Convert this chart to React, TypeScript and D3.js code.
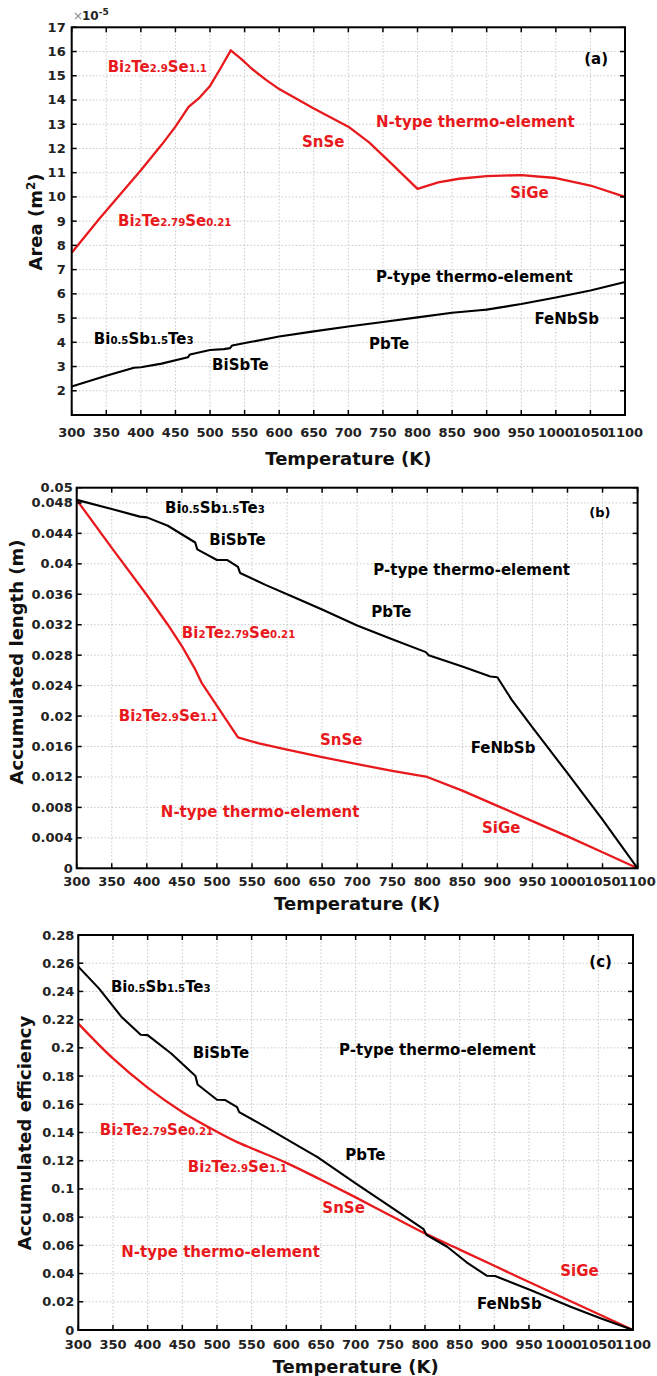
import React from 'react';
import * as d3 from 'd3';

const RED = '#e8191c';
const FONT = '"DejaVu Sans", Arial, sans-serif';

// shared temperature axis
const xTicks = [300, 350, 400, 450, 500, 550, 600, 650, 700, 750, 800, 850, 900, 950, 1000, 1050, 1100];
const xTickLabels = ['300', '350', '400', '450', '500', '550', '600', '650', '700', '750', '800', '850', '900', '950', '1000', '1050', '1100'];

// (a) area, x1e-5 m^2
const aTicks = [2, 3, 4, 5, 6, 7, 8, 9, 10, 11, 12, 13, 14, 15, 16, 17];
const aTickLabels = ['2', '3', '4', '5', '6', '7', '8', '9', '10', '11', '12', '13', '14', '15', '16', '17'];
const aNT = [300, 340, 370, 400, 430, 450, 469, 485, 500, 515, 530, 545, 560, 580, 600, 650, 700, 730, 765, 800, 830, 860, 900, 950, 1000, 1050, 1100];
const aNV = [7.7, 9.1, 10.1, 11.1, 12.15, 12.9, 13.72, 14.1, 14.58, 15.3, 16.05, 15.7, 15.3, 14.85, 14.45, 13.65, 12.9, 12.25, 11.3, 10.33, 10.6, 10.75, 10.86, 10.9, 10.78, 10.47, 10.0];
const aPT = [300, 350, 390, 400, 430, 468, 471, 500, 520, 529, 532, 560, 600, 650, 700, 750, 800, 850, 890, 900, 950, 1000, 1050, 1100];
const aPV = [2.18, 2.62, 2.95, 2.97, 3.12, 3.38, 3.5, 3.68, 3.72, 3.76, 3.87, 4.02, 4.24, 4.45, 4.65, 4.84, 5.03, 5.22, 5.32, 5.35, 5.58, 5.85, 6.14, 6.49];

// (b) accumulated length, m
const bTicks = [0, 0.004, 0.008, 0.012, 0.016, 0.02, 0.024, 0.028, 0.032, 0.036, 0.04, 0.044, 0.048, 0.05];
const bTickLabels = ['0', '0.004', '0.008', '0.012', '0.016', '0.02', '0.024', '0.028', '0.032', '0.036', '0.04', '0.044', '0.048', '0.05'];
const bPT = [300, 350, 390, 400, 430, 469, 472, 500, 515, 530, 533, 570, 610, 650, 700, 750, 798, 802, 850, 890, 900, 920, 950, 1000, 1050, 1100];
const bPV = [0.0484, 0.0472, 0.0462, 0.0461, 0.045, 0.0428, 0.0419, 0.0405, 0.0405, 0.0396, 0.0388, 0.0372, 0.0356, 0.034, 0.0319, 0.0301, 0.0284, 0.028, 0.0265, 0.0252, 0.0251, 0.0222, 0.0185, 0.0125, 0.0064, 0];
const bNT = [300, 350, 400, 430, 450, 468, 478, 530, 560, 600, 650, 700, 750, 800, 850, 900, 950, 1000, 1050, 1100];
const bNV = [0.0484, 0.0421, 0.0359, 0.032, 0.0292, 0.0263, 0.0244, 0.0172, 0.0164, 0.0156, 0.0146, 0.0137, 0.0128, 0.012, 0.0102, 0.0082, 0.0062, 0.0042, 0.0021, 0];

// (c) accumulated efficiency
const cTicks = [0, 0.02, 0.04, 0.06, 0.08, 0.1, 0.12, 0.14, 0.16, 0.18, 0.2, 0.22, 0.24, 0.26, 0.28];
const cTickLabels = ['0', '0.02', '0.04', '0.06', '0.08', '0.1', '0.12', '0.14', '0.16', '0.18', '0.2', '0.22', '0.24', '0.26', '0.28'];
const cPT = [300, 330, 362, 390, 400, 434, 469, 472, 500, 512, 529, 532, 570, 612, 645, 700, 750, 798, 802, 832, 860, 889, 901, 952, 1010, 1053, 1100];
const cPV = [0.2576, 0.242, 0.2221, 0.2093, 0.209, 0.196, 0.18, 0.174, 0.1632, 0.163, 0.158, 0.1545, 0.144, 0.132, 0.1225, 0.104, 0.0875, 0.0715, 0.0675, 0.059, 0.048, 0.0385, 0.0383, 0.0284, 0.0165, 0.0083, 0];
const cNT = [300, 350, 400, 450, 500, 530, 550, 600, 650, 700, 750, 800, 850, 900, 950, 1000, 1050, 1100];
const cNV = [0.2172, 0.1925, 0.1718, 0.1545, 0.1405, 0.133, 0.1288, 0.1185, 0.1065, 0.094, 0.0812, 0.0685, 0.057, 0.0455, 0.034, 0.0227, 0.0113, 0];

const zip = (t: number[], v: number[]): [number, number][] => t.map((d, i) => [d, v[i]]);

type Note = { t: string; x: number; y: number; red?: boolean; size?: number };

const panels = [
  {
    left: 71.7, right: 625, top: 27.3, bottom: 415, domain: [1, 17],
    ticks: aTicks, labels: aTickLabels, labelGap: 6, xLabelY: 437, titleY: 465,
    yTitle: 'Area', yTitleSup: true, yTitleX: 42, yTitleY: 222,
    series: [zip(aNT, aNV), zip(aPT, aPV)], smoothRed: false,
    notes: [
      { t: '(a)', x: 1041, y: 15.5, size: 15 },
      { t: 'Bi{2}Te{2.9}Se{1.1}', x: 352, y: 15.15, red: true },
      { t: 'SnSe', x: 633, y: 12.06, red: true },
      { t: 'N-type thermo-element', x: 740, y: 12.89, red: true },
      { t: 'SiGe', x: 934, y: 9.96, red: true },
      { t: 'Bi{2}Te{2.79}Se{0.21}', x: 367, y: 8.8, red: true },
      { t: 'P-type thermo-element', x: 740, y: 6.49 },
      { t: 'FeNbSb', x: 969, y: 4.75 },
      { t: 'Bi{0.5}Sb{1.5}Te{3}', x: 332, y: 3.93 },
      { t: 'PbTe', x: 730, y: 3.73 },
      { t: 'BiSbTe', x: 503, y: 2.86 },
    ] as Note[],
  },
  {
    left: 76.7, right: 637.6, top: 487.7, bottom: 868.3, domain: [0, 0.05],
    ticks: bTicks, labels: bTickLabels, labelGap: 4, xLabelY: 886, titleY: 910,
    yTitle: 'Accumulated length (m)', yTitleSup: false, yTitleX: 23, yTitleY: 662,
    series: [zip(bNT, bNV), zip(bPT, bPV)], smoothRed: false,
    notes: [
      { t: '(b)', x: 1031, y: 0.0462, size: 13 },
      { t: 'Bi{0.5}Sb{1.5}Te{3}', x: 426, y: 0.0467 },
      { t: 'BiSbTe', x: 489, y: 0.04247 },
      { t: 'P-type thermo-element', x: 723, y: 0.03853 },
      { t: 'PbTe', x: 720, y: 0.03301 },
      { t: 'Bi{2}Te{2.79}Se{0.21}', x: 450, y: 0.03025, red: true },
      { t: 'Bi{2}Te{2.9}Se{1.1}', x: 360, y: 0.01935, red: true },
      { t: 'SnSe', x: 647, y: 0.0162, red: true },
      { t: 'FeNbSb', x: 862, y: 0.01515 },
      { t: 'N-type thermo-element', x: 420, y: 0.00674, red: true },
      { t: 'SiGe', x: 878, y: 0.00464, red: true },
    ] as Note[],
  },
  {
    left: 78.3, right: 633, top: 935, bottom: 1330, domain: [0, 0.28],
    ticks: cTicks, labels: cTickLabels, labelGap: 4, xLabelY: 1349, titleY: 1373,
    yTitle: 'Accumulated efficiency', yTitleSup: false, yTitleX: 31, yTitleY: 1133,
    series: [zip(cNT, cNV), zip(cPT, cPV)], smoothRed: true,
    notes: [
      { t: '(c)', x: 1037, y: 0.2573, size: 15 },
      { t: 'Bi{0.5}Sb{1.5}Te{3}', x: 347, y: 0.2396 },
      { t: 'BiSbTe', x: 465, y: 0.1928 },
      { t: 'P-type thermo-element', x: 676, y: 0.1949 },
      { t: 'Bi{2}Te{2.79}Se{0.21}', x: 331, y: 0.1382, red: true },
      { t: 'PbTe', x: 685, y: 0.1205 },
      { t: 'Bi{2}Te{2.9}Se{1.1}', x: 458, y: 0.112, red: true },
      { t: 'SnSe', x: 652, y: 0.0829, red: true },
      { t: 'N-type thermo-element', x: 362, y: 0.0517, red: true },
      { t: 'SiGe', x: 995, y: 0.0383, red: true },
      { t: 'FeNbSb', x: 875, y: 0.0149 },
    ] as Note[],
  },
];

// "Bi{2}Te{2.9}" -> normal text with small index digits
function Formula({ t, size }: { t: string; size: number }) {
  const parts = t.split(/(\{[^}]*\})/).filter(Boolean);
  return (
    <>
      {parts.map((s, i) =>
        s.startsWith('{') ? (
          <tspan key={i} fontSize={size * 0.68}>{s.slice(1, -1)}</tspan>
        ) : (
          <tspan key={i}>{s}</tspan>
        )
      )}
    </>
  );
}

function Panel({ p }: { p: (typeof panels)[number] }) {
  const x = d3.scaleLinear().domain([300, 1100]).range([p.left, p.right]);
  const y = d3.scaleLinear().domain(p.domain).range([p.bottom, p.top]);
  const line = d3.line<[number, number]>().x(d => x(d[0])).y(d => y(d[1]));
  const redLine = d3.line<[number, number]>().x(d => x(d[0])).y(d => y(d[1]))
    .curve(p.smoothRed ? d3.curveMonotoneX : d3.curveLinear);
  const tl = 5;

  return (
    <g fontFamily={FONT} fontWeight="bold">
      {xTicks.map(t => (
        <line key={'gx' + t} x1={x(t)} x2={x(t)} y1={p.top} y2={p.bottom} stroke="#c8c8c8" strokeWidth={1} strokeDasharray="1.5 2" />
      ))}
      {p.ticks.map(t => (
        <line key={'gy' + t} x1={p.left} x2={p.right} y1={y(t)} y2={y(t)} stroke="#c8c8c8" strokeWidth={1} strokeDasharray="1.5 2" />
      ))}

      <path d={redLine(p.series[0]) || ''} fill="none" stroke={RED} strokeWidth={2.3} strokeLinejoin="round" />
      <path d={line(p.series[1]) || ''} fill="none" stroke="#000" strokeWidth={2.1} strokeLinejoin="round" />

      {xTicks.map(t => (
        <g key={'tx' + t}>
          <line x1={x(t)} x2={x(t)} y1={p.bottom} y2={p.bottom - tl} stroke="#000" strokeWidth={1.5} />
          <line x1={x(t)} x2={x(t)} y1={p.top} y2={p.top + tl} stroke="#000" strokeWidth={1.5} />
        </g>
      ))}
      {p.ticks.map(t => (
        <g key={'ty' + t}>
          <line x1={p.left} x2={p.left + tl} y1={y(t)} y2={y(t)} stroke="#000" strokeWidth={1.5} />
          <line x1={p.right} x2={p.right - tl} y1={y(t)} y2={y(t)} stroke="#000" strokeWidth={1.5} />
        </g>
      ))}
      <rect x={p.left} y={p.top} width={p.right - p.left} height={p.bottom - p.top} fill="none" stroke="#000" strokeWidth={2} />

      {xTicks.map((t, i) => (
        <text key={'lx' + t} x={x(t)} y={p.xLabelY} textAnchor="middle" fontSize={13} fill="#222">{xTickLabels[i]}</text>
      ))}
      {p.ticks.map((t, i) => (
        <text key={'ly' + t} x={p.left - p.labelGap} y={y(t) + 4.5} textAnchor="end" fontSize={13} fill="#222">{p.labels[i]}</text>
      ))}
      <text x={(p.left + p.right) / 2} y={p.titleY} textAnchor="middle" fontSize={18} fill="#111">Temperature (K)</text>
      <text transform={`translate(${p.yTitleX},${p.yTitleY}) rotate(-90)`} textAnchor="middle" fontSize={18} fill="#111">
        {p.yTitle}
        {p.yTitleSup && (
          <>
            {' (m'}
            <tspan fontSize={12} dy={-7}>2</tspan>
            <tspan dy={7}>)</tspan>
          </>
        )}
      </text>

      {p.notes.map((n, i) => (
        <text key={'n' + i} x={x(n.x)} y={y(n.y)} fontSize={n.size || 15} fill={n.red ? RED : '#000'}>
          <Formula t={n.t} size={n.size || 15} />
        </text>
      ))}
    </g>
  );
}

export default function App() {
  return (
    <svg width={657} height={1376} style={{ position: 'absolute', left: 0, top: 0, background: '#fff' }}>
      <rect width={657} height={1376} fill="#fff" />
      {panels.map((p, i) => (
        <Panel key={i} p={p} />
      ))}
      <text x={73} y={20} fontFamily={FONT} fontSize={12} fill="#888">×</text>
      <text x={82} y={20} fontFamily={FONT} fontWeight="bold" fontSize={12} fill="#222">
        10<tspan fontSize={9} dy={-5}>-5</tspan>
      </text>
    </svg>
  );
}
